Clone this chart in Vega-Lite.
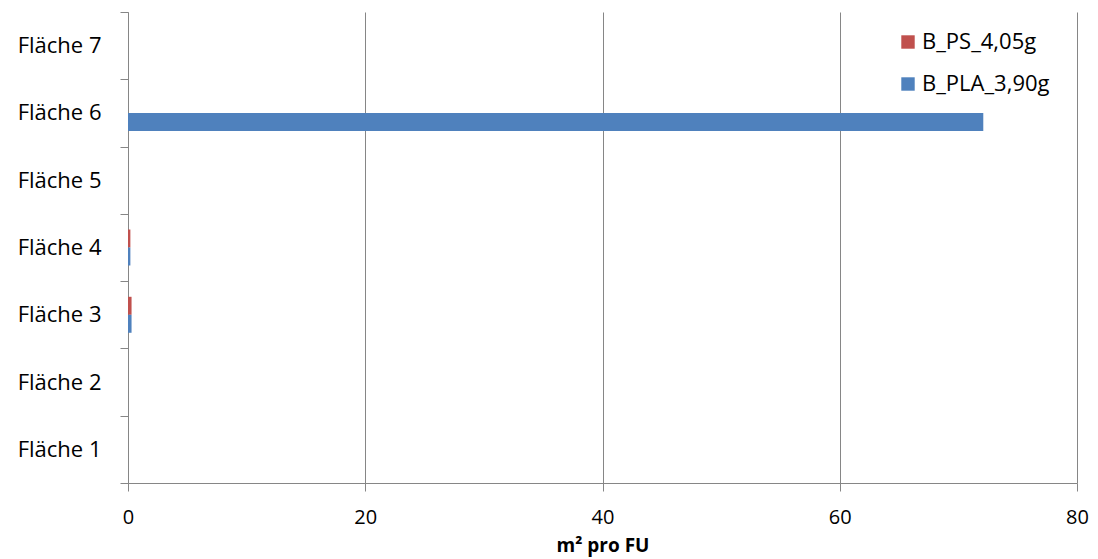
{
  "$schema": "https://vega.github.io/schema/vega-lite/v6.json",
  "width": 949,
  "height": 471,
  "autosize": "none",
  "padding": {"left": 128, "top": 12, "right": 21, "bottom": 76},
  "background": "white",
  "data": {
    "values": [
      {"flaeche": "Fläche 1", "serie": "B_PS_4,05g", "wert": 0},
      {"flaeche": "Fläche 1", "serie": "B_PLA_3,90g", "wert": 0},
      {"flaeche": "Fläche 2", "serie": "B_PS_4,05g", "wert": 0},
      {"flaeche": "Fläche 2", "serie": "B_PLA_3,90g", "wert": 0},
      {"flaeche": "Fläche 3", "serie": "B_PS_4,05g", "wert": 0.3},
      {"flaeche": "Fläche 3", "serie": "B_PLA_3,90g", "wert": 0.3},
      {"flaeche": "Fläche 4", "serie": "B_PS_4,05g", "wert": 0.2},
      {"flaeche": "Fläche 4", "serie": "B_PLA_3,90g", "wert": 0.2},
      {"flaeche": "Fläche 5", "serie": "B_PS_4,05g", "wert": 0},
      {"flaeche": "Fläche 5", "serie": "B_PLA_3,90g", "wert": 0},
      {"flaeche": "Fläche 6", "serie": "B_PS_4,05g", "wert": 0},
      {"flaeche": "Fläche 6", "serie": "B_PLA_3,90g", "wert": 72.1},
      {"flaeche": "Fläche 7", "serie": "B_PS_4,05g", "wert": 0},
      {"flaeche": "Fläche 7", "serie": "B_PLA_3,90g", "wert": 0}
    ]
  },
  "mark": {"type": "bar", "stroke": null},
  "encoding": {
    "y": {
      "field": "flaeche",
      "type": "nominal",
      "sort": ["Fläche 7", "Fläche 6", "Fläche 5", "Fläche 4", "Fläche 3", "Fläche 2", "Fläche 1"],
      "scale": {"paddingInner": 0, "paddingOuter": 0},
      "axis": {
        "title": null,
        "tickBand": "extent",
        "tickSize": 8,
        "tickColor": "#868686",
        "domainColor": "#868686",
        "labelPadding": 19,
        "labelFont": "Open Sans",
        "labelFontSize": 22,
        "labelColor": "#000000",
        "grid": false
      }
    },
    "yOffset": {
      "field": "serie",
      "type": "nominal",
      "sort": ["B_PS_4,05g", "B_PLA_3,90g"],
      "scale": {"paddingInner": 0, "paddingOuter": 0.87}
    },
    "x": {
      "field": "wert",
      "type": "quantitative",
      "scale": {"domain": [0, 80], "nice": false},
      "axis": {
        "title": "m² pro FU",
        "titleFont": "Open Sans",
        "titleFontSize": 19,
        "titleFontWeight": "bold",
        "titleColor": "#000000",
        "titlePadding": 9,
        "values": [0, 20, 40, 60, 80],
        "tickSize": 8,
        "tickColor": "#868686",
        "domainColor": "#868686",
        "gridColor": "#868686",
        "gridOpacity": 1,
        "grid": true,
        "labelPadding": 16,
        "labelFont": "Open Sans",
        "labelFontSize": 20,
        "labelColor": "#000000",
        "labelFlush": false
      }
    },
    "color": {
      "field": "serie",
      "type": "nominal",
      "scale": {"domain": ["B_PS_4,05g", "B_PLA_3,90g"], "range": ["#C0504D", "#4F81BD"]},
      "legend": {
        "title": null,
        "orient": "none",
        "legendX": 769,
        "legendY": 19,
        "symbolType": "square",
        "symbolSize": 180,
        "symbolStrokeWidth": 0,
        "symbolOpacity": 1,
        "labelFont": "Open Sans",
        "labelFontSize": 22,
        "labelColor": "#000000",
        "labelOffset": 3,
        "rowPadding": 20
      }
    }
  },
  "config": {"view": {"stroke": null}}
}
